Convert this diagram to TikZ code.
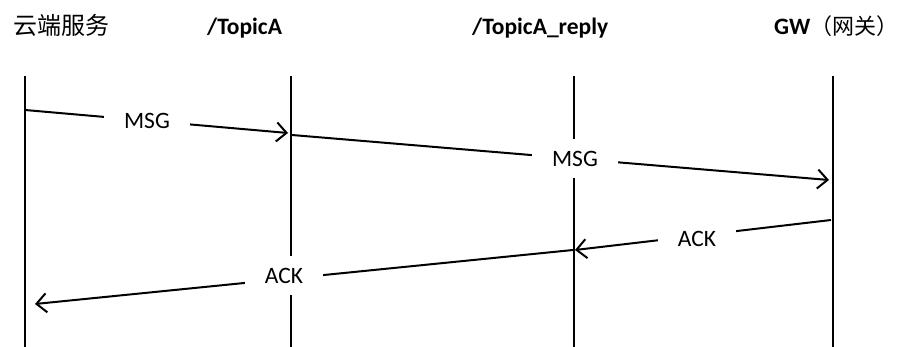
\documentclass[tikz,border=0pt]{standalone}
\usepackage{fontspec}
\setmainfont{Carlito}
\newfontfamily\cjk{Noto Sans CJK SC}
\usetikzlibrary{arrows.meta}
\begin{document}
\begin{tikzpicture}[x=1pt,y=-1pt,
  life/.style={line width=2pt},
  msgarrow/.style={line width=2pt, -{Straight Barb[length=10pt,width=19pt]}},
  lbl/.style={fill=white, inner xsep=20pt, inner ysep=12pt, text height=15pt, text depth=0pt, font=\fontsize{23.5}{26}\selectfont},
  hdr/.style={anchor=base west, inner sep=0pt, font=\fontsize{23.5}{26}\selectfont\bfseries}]
\useasboundingbox (0,0) rectangle (902,347);

% headers
\node[hdr, font=\fontsize{24}{26}\selectfont\cjk] (h1) at (13,35) {云端服务};
\node[hdr] (h2) at (207,35) {/TopicA};
\node[hdr] (h3) at (472,35) {/TopicA\_reply};
\node[hdr] (h4) at (774,35) {GW{\cjk\mdseries\fontsize{22}{26}\selectfont（网关）}};

% lifelines
\coordinate (L1t) at (25,76);  \coordinate (L1b) at (25,347);
\coordinate (L2t) at (291,76); \coordinate (L2b) at (291,347);
\coordinate (L3t) at (574,76); \coordinate (L3b) at (574,347);
\coordinate (L4t) at (833,76); \coordinate (L4b) at (833,347);
\draw[life] (L1t) -- (L1b);
\draw[life] (L2t) -- (L2b);
\draw[life] (L3t) -- (L3b);
\draw[life] (L4t) -- (L4b);

% messages
\coordinate (m1s) at (25,110);  \coordinate (m1e) at (288,133);
\coordinate (m2s) at (292,135); \coordinate (m2e) at (829,180);
\coordinate (m3s) at (831,220); \coordinate (m3e) at (575,250);
\coordinate (m4s) at (573,250); \coordinate (m4e) at (35,304);
\draw[msgarrow] (m1s) -- (m1e);
\draw[msgarrow] (m2s) -- (m2e);
\draw[msgarrow] (m3s) -- (m3e);
\draw[msgarrow] (m4s) -- (m4e);

% labels
\node[lbl] (t1) at (147,121) {MSG};
\node[lbl] (t2) at (575,159) {MSG};
\node[lbl] (t3) at (697,239) {ACK};
\node[lbl] (t4) at (284,276) {ACK};
\end{tikzpicture}
\end{document}
